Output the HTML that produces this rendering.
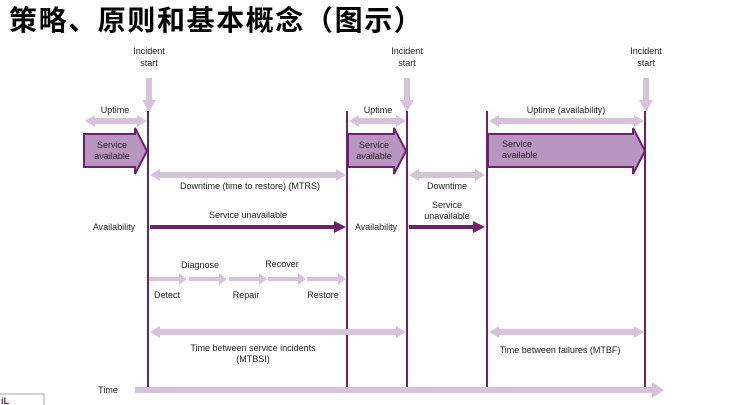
<!DOCTYPE html>
<html><head><meta charset="utf-8"><style>
html,body{margin:0;padding:0;background:#fff;width:737px;height:405px;overflow:hidden}
svg text{font-family:"Liberation Sans",Arial,sans-serif;font-size:9px;fill:#222}
</style></head><body>
<svg width="737" height="405" viewBox="0 0 737 405" xmlns="http://www.w3.org/2000/svg">
<text x="9" y="30" style="font-family:'Liberation Sans','Noto Sans CJK SC',sans-serif;font-size:28px;font-weight:bold;fill:#000;letter-spacing:1.6px">策略、原则和基本概念（图示）</text>

<g fill="#d6c3da">
<polygon points="146,78 152,78 152,100 156,100 149,112 142,100 146,100"/>
<polygon points="404,78 410,78 410,100 414,100 407,112 400,100 404,100"/>
<polygon points="643,78 649,78 649,100 653,100 646,112 639,100 643,100"/>
</g>
<text x="149" y="54" text-anchor="middle">Incident</text><text x="149" y="66" text-anchor="middle">start</text>
<text x="407" y="54" text-anchor="middle">Incident</text><text x="407" y="66" text-anchor="middle">start</text>
<text x="646" y="54" text-anchor="middle">Incident</text><text x="646" y="66" text-anchor="middle">start</text>

<g stroke="#6e1f6e" stroke-width="2">
<line x1="148" y1="111" x2="148" y2="388"/>
<line x1="347" y1="111" x2="347" y2="388"/>
<line x1="407" y1="111" x2="407" y2="388"/>
<line x1="487" y1="111" x2="487" y2="388"/>
<line x1="645" y1="111" x2="645" y2="388"/>
</g>

<g fill="#d6c3da">
<polygon points="85,121 95,115 95,118 137,118 137,115 147,121 137,127 137,124 95,124 95,127"/>
<polygon points="349,121 359,115 359,118 396,118 396,115 406,121 396,127 396,124 359,124 359,127"/>
<polygon points="489,121 499,115 499,118 634,118 634,115 644,121 634,127 634,124 499,124 499,127"/>
<polygon points="150,175 160,169 160,172 336,172 336,169 346,175 336,181 336,178 160,178 160,181"/>
<polygon points="409,175 419,169 419,172 475,172 475,169 485,175 475,181 475,178 419,178 419,181"/>
<polygon points="150,332 160,326 160,329 396,329 396,326 406,332 396,338 396,335 160,335 160,338"/>
<polygon points="489,332 499,326 499,329 634,329 634,326 644,332 634,338 634,335 499,335 499,338"/>
<polygon points="149,277 179,277 179,273 187,279 179,285 179,281 149,281"/>
<polygon points="189,277 219,277 219,273 227,279 219,285 219,281 189,281"/>
<polygon points="229,277 259,277 259,273 267,279 259,285 259,281 229,281"/>
<polygon points="268,277 298,277 298,273 306,279 298,285 298,281 268,281"/>
<polygon points="307,277 338,277 338,273 346,279 338,285 338,281 307,281"/>
<polygon points="135,387 652,387 652,382 664,390 652,398 652,393 135,393"/>
</g>

<g fill="#b996c0" stroke="#6e1f6e" stroke-width="2">
<polygon points="84,134 135,134 135,128 147,151 135,174 135,167 84,167"/>
<polygon points="348,134 394,134 394,128 406,151 394,174 394,167 348,167"/>
<polygon points="488,134 633,134 633,128 645,151 633,174 633,167 488,167"/>
</g>
<g fill="#6e1f6e">
<polygon points="150,225 334,225 334,221 346,227 334,233 334,229 150,229"/>
<polygon points="409,225 473,225 473,221 485,227 473,233 473,229 409,229"/>
</g>

<text x="115" y="113" text-anchor="middle">Uptime</text>
<text x="378" y="113" text-anchor="middle">Uptime</text>
<text x="566" y="113" text-anchor="middle">Uptime  (availability)</text>
<text x="112" y="148" text-anchor="middle">Service</text><text x="112" y="159" text-anchor="middle">available</text>
<text x="374" y="148" text-anchor="middle">Service</text><text x="374" y="159" text-anchor="middle">available</text>
<text x="502" y="147">Service</text><text x="502" y="158">available</text>
<text x="250" y="189" text-anchor="middle">Downtime (time to restore) (MTRS)</text>
<text x="447" y="189" text-anchor="middle">Downtime</text>
<text x="248" y="218" text-anchor="middle">Service unavailable</text>
<text x="447" y="208" text-anchor="middle">Service</text><text x="447" y="219" text-anchor="middle">unavailable</text>
<text x="114" y="230" text-anchor="middle">Availability</text>
<text x="376" y="230" text-anchor="middle">Availability</text>
<text x="200" y="268" text-anchor="middle">Diagnose</text>
<text x="282" y="267" text-anchor="middle">Recover</text>
<text x="167" y="298" text-anchor="middle">Detect</text>
<text x="246" y="298" text-anchor="middle">Repair</text>
<text x="323" y="298" text-anchor="middle">Restore</text>
<text x="253" y="351" text-anchor="middle">Time between service incidents</text>
<text x="253" y="362" text-anchor="middle">(MTBSI)</text>
<text x="560" y="353" text-anchor="middle">Time between failures (MTBF)</text>
<text x="108" y="393" text-anchor="middle">Time</text>

<rect x="-2" y="394" width="46" height="14" fill="none" stroke="#b996c0" stroke-width="1"/>
<text x="1" y="404" style="font-size:9px;font-weight:bold;fill:#6e1f6e">iL</text>
</svg>
</body></html>
